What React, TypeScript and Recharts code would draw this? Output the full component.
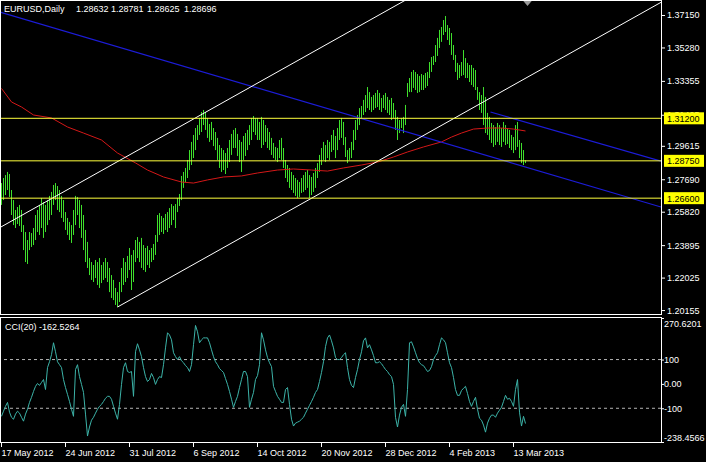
import React from 'react';
import { ComposedChart, Bar, Line, XAxis, YAxis, ReferenceLine, ReferenceDot } from 'recharts';

// daily EURUSD bars (one entry per bar)
const highs = [
  1.2747, 1.2776, 1.2793, 1.2811, 1.2799, 1.2707, 1.2649, 1.2592, 1.2609, 1.2621,
  1.2592, 1.2505, 1.2465, 1.2419, 1.2465, 1.2459, 1.2488, 1.2563, 1.2592, 1.2621,
  1.2661, 1.2638, 1.2621, 1.2649, 1.2673, 1.2696, 1.2736, 1.2747, 1.2730, 1.2707,
  1.2673, 1.2649, 1.2580, 1.2546, 1.2523, 1.2505, 1.2592, 1.2673, 1.2667, 1.2649,
  1.2621, 1.2563, 1.2477, 1.2408, 1.2315, 1.2292, 1.2275, 1.2304, 1.2292, 1.2315,
  1.2275, 1.2292, 1.2315, 1.2292, 1.2258, 1.2217, 1.2189, 1.2143, 1.2119, 1.2177,
  1.2258, 1.2315, 1.2292, 1.2327, 1.2373, 1.2333, 1.2361, 1.2419, 1.2436, 1.2408,
  1.2431, 1.2390, 1.2373, 1.2385, 1.2361, 1.2373, 1.2396, 1.2448, 1.2563, 1.2574,
  1.2557, 1.2546, 1.2569, 1.2580, 1.2603, 1.2626, 1.2615, 1.2626, 1.2661, 1.2684,
  1.2788, 1.2811, 1.2834, 1.2880, 1.2937, 1.2984, 1.3024, 1.3064, 1.3081, 1.3122,
  1.3156, 1.3168, 1.3156, 1.3122, 1.3087, 1.3099, 1.3064, 1.3041, 1.3007, 1.2966,
  1.2949, 1.2937, 1.2920, 1.2949, 1.2995, 1.3030, 1.3053, 1.3064, 1.3030, 1.2995,
  1.2984, 1.3018, 1.3035, 1.3053, 1.3081, 1.3122, 1.3133, 1.3122, 1.3122, 1.3099,
  1.3128, 1.3110, 1.3081, 1.3064, 1.3041, 1.3007, 1.2978, 1.2955, 1.2949, 1.2995,
  1.3007, 1.2949, 1.2880, 1.2851, 1.2834, 1.2811, 1.2793, 1.2776, 1.2765, 1.2753,
  1.2776, 1.2793, 1.2811, 1.2822, 1.2793, 1.2782, 1.2805, 1.2834, 1.2862, 1.2909,
  1.2949, 1.2984, 1.2966, 1.2995, 1.2984, 1.3024, 1.3053, 1.3018, 1.3064, 1.3110,
  1.3122, 1.3099, 1.3012, 1.2937, 1.2949, 1.2984, 1.3053, 1.3110, 1.3139, 1.3179,
  1.3191, 1.3226, 1.3254, 1.3300, 1.3271, 1.3243, 1.3254, 1.3266, 1.3283, 1.3266,
  1.3237, 1.3254, 1.3266, 1.3243, 1.3226, 1.3237, 1.3208, 1.3168, 1.3128, 1.3110,
  1.3122, 1.3128, 1.3197, 1.3323, 1.3352, 1.3387, 1.3398, 1.3387, 1.3375, 1.3364,
  1.3375, 1.3369, 1.3381, 1.3387, 1.3444, 1.3473, 1.3479, 1.3542, 1.3583, 1.3629,
  1.3646, 1.3686, 1.3709, 1.3657, 1.3640, 1.3611, 1.3542, 1.3485, 1.3439, 1.3427,
  1.3444, 1.3513, 1.3467, 1.3439, 1.3427, 1.3427, 1.3410, 1.3398, 1.3300, 1.3271,
  1.3254, 1.3300, 1.3243, 1.3151, 1.3128, 1.3093, 1.3081, 1.3070, 1.3093, 1.3081,
  1.3064, 1.3099, 1.3081, 1.3064, 1.3053, 1.3024, 1.3012, 1.3081, 1.3099, 1.2995,
  1.2978, 1.2937, 1.2878,
];

const lows = [
  1.2621, 1.2649, 1.2678, 1.2707, 1.2667, 1.2563, 1.2505, 1.2488, 1.2511, 1.2500,
  1.2465, 1.2361, 1.2292, 1.2281, 1.2361, 1.2379, 1.2390, 1.2419, 1.2465, 1.2448,
  1.2488, 1.2431, 1.2465, 1.2505, 1.2534, 1.2563, 1.2621, 1.2649, 1.2592, 1.2580,
  1.2546, 1.2523, 1.2477, 1.2448, 1.2419, 1.2402, 1.2448, 1.2505, 1.2563, 1.2488,
  1.2431, 1.2361, 1.2292, 1.2258, 1.2217, 1.2189, 1.2177, 1.2200, 1.2160, 1.2143,
  1.2171, 1.2189, 1.2200, 1.2177, 1.2119, 1.2085, 1.2073, 1.2045, 1.2033, 1.2062,
  1.2119, 1.2160, 1.2177, 1.2200, 1.2246, 1.2131, 1.2177, 1.2292, 1.2315, 1.2292,
  1.2258, 1.2246, 1.2235, 1.2275, 1.2258, 1.2292, 1.2304, 1.2333, 1.2408, 1.2448,
  1.2465, 1.2454, 1.2477, 1.2465, 1.2488, 1.2505, 1.2534, 1.2488, 1.2580, 1.2615,
  1.2649, 1.2719, 1.2753, 1.2776, 1.2822, 1.2851, 1.2891, 1.2937, 1.2995, 1.3024,
  1.3041, 1.3081, 1.3053, 1.3007, 1.2984, 1.2995, 1.2960, 1.2937, 1.2880, 1.2834,
  1.2811, 1.2822, 1.2799, 1.2834, 1.2868, 1.2909, 1.2949, 1.2949, 1.2903, 1.2868,
  1.2811, 1.2880, 1.2903, 1.2937, 1.2966, 1.2995, 1.3041, 1.3024, 1.2995, 1.2995,
  1.2949, 1.2966, 1.2984, 1.2949, 1.2937, 1.2909, 1.2891, 1.2880, 1.2868, 1.2891,
  1.2880, 1.2834, 1.2776, 1.2753, 1.2719, 1.2707, 1.2690, 1.2673, 1.2661, 1.2667,
  1.2690, 1.2696, 1.2707, 1.2719, 1.2661, 1.2678, 1.2696, 1.2719, 1.2776, 1.2811,
  1.2851, 1.2880, 1.2868, 1.2891, 1.2880, 1.2926, 1.2937, 1.2891, 1.2937, 1.2995,
  1.3007, 1.2966, 1.2897, 1.2862, 1.2880, 1.2891, 1.2937, 1.2995, 1.3053, 1.3081,
  1.3122, 1.3139, 1.3156, 1.3179, 1.3168, 1.3156, 1.3168, 1.3179, 1.3185, 1.3168,
  1.3156, 1.3179, 1.3168, 1.3151, 1.3139, 1.3110, 1.3122, 1.3053, 1.2995, 1.3035,
  1.3064, 1.3035, 1.3081, 1.3243, 1.3271, 1.3271, 1.3295, 1.3283, 1.3266, 1.3271,
  1.3283, 1.3283, 1.3295, 1.3306, 1.3352, 1.3387, 1.3427, 1.3444, 1.3479, 1.3525,
  1.3560, 1.3600, 1.3617, 1.3571, 1.3542, 1.3485, 1.3456, 1.3387, 1.3341, 1.3352,
  1.3364, 1.3369, 1.3352, 1.3352, 1.3329, 1.3312, 1.3300, 1.3283, 1.3226, 1.3168,
  1.3151, 1.3081, 1.3035, 1.3024, 1.2995, 1.2978, 1.2955, 1.2966, 1.2984, 1.2966,
  1.2955, 1.2984, 1.2966, 1.2972, 1.2949, 1.2937, 1.2920, 1.2937, 1.2955, 1.2891,
  1.2862, 1.2851, 1.2862,
];

// CCI(20), one value per bar
const cciValues = [
  -133, -112, -92, -76, -116, -137, -145, -124, -112, -120,
  -137, -153, -124, -104, -76, -55, -31, -10, 2, -6,
  6, 18, -23, 67, 91, 120, 169, 132, 91, 79,
  67, 18, -15, -43, -72, -104, -133, 59, 79, 30,
  -2, -35, -124, -214, -177, -149, -137, -120, -104, -92,
  -84, -72, -59, -51, -51, -63, -92, -120, -145, -84,
  -2, 67, 87, 51, 47, 51, -51, 132, 165, 140,
  112, 67, 30, 10, 18, 43, 26, -2, 18, 30,
  26, 79, 148, 210, 201, 181, 128, 112, 100, 112,
  95, 87, 75, 67, 51, 79, 161, 240, 214, 169,
  181, 189, 189, 189, 169, 140, 112, 91, 79, 63,
  55, 47, 22, -2, -31, -63, -96, -72, -51, -15,
  18, 51, 51, 30, -96, -63, -35, 18, 34, 79,
  210, 181, 140, 108, 87, 71, -10, -31, -51, -63,
  -76, -76, -23, -15, -84, -145, -173, -161, -157, -153,
  -145, -137, -120, -104, -88, -72, -55, -35, -23, 10,
  47, 91, 153, 189, 201, 177, 148, 108, 100, 100,
  108, 120, 128, 67, 18, -6, -15, 26, 59, 100,
  132, 177, 189, 148, 161, 140, 116, 87, 87, 91,
  83, 71, 59, 51, 38, 30, -2, -137, -177, -128,
  -96, -84, -133, -23, 169, 173, 152, 128, 104, 87,
  79, 75, 63, 51, 55, 71, 100, 116, 128, 161,
  189, 181, 169, 128, 87, 67, 26, -23, -47, -47,
  -27, -18, -10, -39, -72, -92, -72, -55, -104, -141,
  -149, -169, -198, -161, -141, -128, -128, -137, -120, -108,
  -96, -72, -47, -63, -59, -72, -92, -23, 18, -116,
  -173, -133, -162.5264,
];

// moving average, sampled at these bars
const maBars = [0, 5, 10, 16, 25, 33, 41, 50, 58, 67, 73, 81, 90, 96, 103, 111, 120, 128, 138, 146, 155, 163, 171, 180, 188, 196, 203, 211, 220, 225, 230, 236, 243, 250, 256, 262];
const maValues = [1.3292, 1.3214, 1.3185, 1.3139, 1.3122, 1.3070, 1.3035, 1.2995, 1.2920, 1.2863, 1.2822, 1.2782, 1.2753, 1.2747, 1.2765, 1.2782, 1.2788, 1.2805, 1.2822, 1.2828, 1.2822, 1.2816, 1.2834, 1.2851, 1.2868, 1.2897, 1.2926, 1.2955, 1.2984, 1.3012, 1.3035, 1.3058, 1.3064, 1.3064, 1.3058, 1.3047];

const dateTicks = [0, 32, 64, 96, 128, 160, 192, 224, 256];
const dateLabels = ['17 May 2012', '24 Jun 2012', '31 Jul 2012', '6 Sep 2012', '14 Oct 2012', '20 Nov 2012', '28 Dec 2012', '4 Feb 2013', '13 Mar 2013'];
const priceTicks = [1.3715, 1.3528, 1.33355, 1.31405, 1.29615, 1.2769, 1.2582, 1.23895, 1.22025, 1.20155];
const levelPrices = [1.312, 1.2875, 1.266];
const cciTicks = [270.6201, 100, 0, -100, -238.4566];
const cciTickLabels = ['270.6201', '100', '0.00', '-100', '-238.4566'];
const cciLevels = [100, -100];

// trend lines as [bar, price, bar, price]
const blueLines = [
  [-0.75, 1.3732, 329.75, 1.2609],
  [244.5, 1.3156, 329.75, 1.2873],
];
const whiteLines = [
  [-0.75, 1.2491, 205, 1.382],
  [58, 1.2033, 329.75, 1.3788],
];

const X_DOMAIN: [number, number] = [-0.75, 329.75];
const FONT = '"Liberation Sans", Arial, sans-serif';
const BAR_GREEN = '#3fe02c';

const bars = highs.map((h, i) => ({ i, range: [lows[i], h], cci: cciValues[i] }));
const maData = maBars.map((b, k) => ({ i: b, ma: maValues[k] }));

// one bar = a 1px vertical stroke from low to high
const BarShape = (p: any) => {
  const cx = Math.floor(p.x + p.width / 2) + 0.5;
  const top = Math.min(p.y, p.y + p.height);
  const bottom = Math.max(p.y, p.y + p.height);
  return <line x1={cx} x2={cx} y1={top} y2={bottom} stroke={BAR_GREEN} strokeWidth={1} />;
};

// price ticks first, the level tags last so they sit on top
const PriceTick = (p: any) => {
  const v = Number(p.payload.value);
  if (levelPrices.includes(v)) {
    return (
      <g>
        <rect x={p.x + 3} y={p.y - 6} width={40} height={12} fill="#ffff00" />
        <text x={p.x + 6} y={p.y + 3.5} fill="#000" fontSize={9} fontFamily={FONT}>
          {v.toFixed(5)}
        </text>
      </g>
    );
  }
  return (
    <g>
      <line x1={p.x + 1} x2={p.x + 4} y1={p.y + 0.5} y2={p.y + 0.5} stroke="#fff" />
      <text x={p.x + 6} y={p.y + 3.5} fill="#fff" fontSize={9} fontFamily={FONT}>
        {v.toFixed(5)}
      </text>
    </g>
  );
};

const CciTick = (p: any) => {
  const k = cciTicks.indexOf(p.payload.value);
  const shift = k === 0 ? 5 : k === cciTicks.length - 1 ? -5 : 0;
  return (
    <g>
      <line x1={p.x + 1} x2={p.x + 3} y1={p.y + 0.5} y2={p.y + 0.5} stroke="#fff" />
      <text x={p.x + 3} y={p.y + 3.5 + shift} fill="#fff" fontSize={9} fontFamily={FONT}>
        {cciTickLabels[k]}
      </text>
    </g>
  );
};

const DateTick = (p: any) => {
  const k = dateTicks.indexOf(p.payload.value);
  const x = Math.floor(p.x) + 0.5;
  return (
    <g>
      <line x1={x} x2={x} y1={p.y + 1} y2={p.y + 5} stroke="#fff" />
      <text x={x} y={p.y + 14} fill="#fff" fontSize={9} fontFamily={FONT}>
        {dateLabels[k]}
      </text>
    </g>
  );
};

const Marker = (p: any) => (
  <polygon points={`${p.cx - 5},${p.cy - 1} ${p.cx + 5},${p.cy - 1} ${p.cx},${p.cy + 5}`} fill="#9a9a9a" />
);

export default function App() {
  return (
    <div style={{ position: 'absolute', left: 0, top: 0, width: 706, height: 462, background: '#000', overflow: 'hidden' }}>
      <div style={{ position: 'absolute', left: 0, top: 0 }}>
        <ComposedChart width={706} height={316} data={bars} margin={{ top: 1, right: 0, bottom: 2, left: 0 }}>
          <XAxis dataKey="i" type="number" domain={X_DOMAIN} hide allowDataOverflow />
          <YAxis
            orientation="right"
            width={45}
            domain={[1.19928, 1.37956]}
            ticks={[...priceTicks, ...levelPrices]}
            interval={0}
            tick={<PriceTick />}
            tickLine={false}
            axisLine={false}
            tickSize={0}
            tickMargin={0}
            allowDataOverflow
          />
          <Bar dataKey="range" barSize={1} fill={BAR_GREEN} shape={BarShape} isAnimationActive={false} />
          <Line data={maData} dataKey="ma" type="linear" stroke="#d41818" strokeWidth={1} dot={false} isAnimationActive={false} />
          {blueLines.map((s, k) => (
            <ReferenceLine key={`b${k}`} segment={[{ x: s[0], y: s[1] }, { x: s[2], y: s[3] }]} stroke="#1c1cd8" strokeWidth={1.2} ifOverflow="hidden" />
          ))}
          {whiteLines.map((s, k) => (
            <ReferenceLine key={`w${k}`} segment={[{ x: s[0], y: s[1] }, { x: s[2], y: s[3] }]} stroke="#ffffff" strokeWidth={1} ifOverflow="hidden" />
          ))}
          {levelPrices.map((v) => (
            <ReferenceLine key={`l${v}`} y={v} stroke="#ffff3c" strokeWidth={1} />
          ))}
          <ReferenceDot x={263} y={1.37956} r={5} shape={<Marker />} ifOverflow="visible" />
        </ComposedChart>
      </div>
      <div style={{ position: 'absolute', left: 0, top: 317 }}>
        <ComposedChart width={706} height={145} data={bars} margin={{ top: 1, right: 0, bottom: 0, left: 0 }}>
          <XAxis
            dataKey="i"
            type="number"
            domain={X_DOMAIN}
            ticks={dateTicks}
            interval={0}
            height={20}
            tick={<DateTick />}
            tickLine={false}
            axisLine={false}
            tickSize={0}
            tickMargin={0}
            allowDataOverflow
          />
          <YAxis
            orientation="right"
            width={45}
            domain={[-238.4566, 270.6201]}
            ticks={cciTicks}
            interval={0}
            tick={<CciTick />}
            tickLine={false}
            axisLine={false}
            tickSize={0}
            tickMargin={0}
            allowDataOverflow
          />
          {cciLevels.map((v) => (
            <ReferenceLine key={`c${v}`} y={v} stroke="#b4b4b4" strokeDasharray="3 3" />
          ))}
          <Line dataKey="cci" type="linear" stroke="#3cb3a8" strokeWidth={1} dot={false} isAnimationActive={false} />
        </ComposedChart>
      </div>
      <svg width={706} height={462} style={{ position: 'absolute', left: 0, top: 0, pointerEvents: 'none' }}>
        <rect x={0.5} y={0.5} width={661} height={314} fill="none" stroke="#fff" />
        <rect x={0.5} y={317.5} width={661} height={125} fill="none" stroke="#fff" />
        <g fill="#fff" fontSize={9} fontFamily={FONT}>
          <text x={4} y={12}>EURUSD,Daily</text>
          <text x={76} y={12}>1.28632</text>
          <text x={111} y={12}>1.28781</text>
          <text x={147} y={12}>1.28625</text>
          <text x={184} y={12}>1.28696</text>
          <text x={5} y={330}>CCI(20) -162.5264</text>
        </g>
      </svg>
    </div>
  );
}
